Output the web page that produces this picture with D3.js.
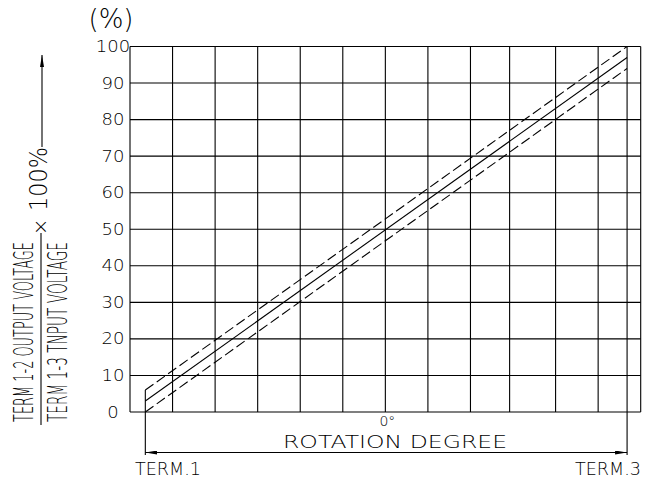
<!DOCTYPE html>
<html>
<head>
<meta charset="utf-8">
<script src="https://cdn.jsdelivr.net/npm/d3@7"></script>
<style>
  body { margin: 0; background: #fff; }
  text { font-family: "DejaVu Sans", sans-serif; font-weight: 200; fill: #000; }
</style>
</head>
<body>
<div id="chart"></div>
<script>
// grid positions (rotation degrees, 0 at centre) and value ticks
let xGrid = [-150, -125, -100, -75, -50, -25, 0, 25, 50, 73, 100, 125, 150]
let yTicks = [0, 10, 20, 30, 40, 50, 60, 70, 80, 90, 100]
let termDeg = [-141, 142]
let termLabels = ["TERM.1", "TERM.3"]
// output ratio (%) at TERM.1 and TERM.3
let nominal = [3, 97]
let upperLimit = [6, 100]
let lowerLimit = [0, 94]

drawChart()

function drawChart() {
    var width = 662, height = 483

    var svg = d3.select("#chart")
        .append("svg")
        .attr("width", width)
        .attr("height", height)

    var x = d3.scaleLinear().domain([-150, 150]).range([130, 640.7])
    var y = d3.scaleLinear().domain([0, 100]).range([412, 46.5])

    // grid
    svg.selectAll("hgrid")
        .data(yTicks)
        .enter()
        .append("line")
        .attr("x1", x(-150)).attr("x2", x(150))
        .attr("y1", d => y(d)).attr("y2", d => y(d))
        .attr("stroke", "#000").attr("stroke-width", 1.1)
    svg.selectAll("vgrid")
        .data(xGrid)
        .enter()
        .append("line")
        .attr("x1", d => x(d)).attr("x2", d => x(d))
        .attr("y1", y(0)).attr("y2", y(100))
        .attr("stroke", "#000").attr("stroke-width", 1.1)

    // tick labels
    svg.selectAll("ylab")
        .data(yTicks)
        .enter()
        .append("text")
        .attr("transform", d => "translate(113," + (y(d) + 5.5) + ") scale(1.2,1)")
        .attr("text-anchor", "middle")
        .style("font-size", "15px")
        .text(d => d)

    svg.append("text")
        .attr("x", 111).attr("y", 28)
        .attr("text-anchor", "middle")
        .style("font-size", "26px")
        .text("(%)")

    // terminal lines
    svg.append("line")
        .attr("x1", x(termDeg[0])).attr("x2", x(termDeg[0]))
        .attr("y1", y(upperLimit[0])).attr("y2", 455)
        .attr("stroke", "#000").attr("stroke-width", 1.1)
    svg.append("line")
        .attr("x1", x(termDeg[1])).attr("x2", x(termDeg[1]))
        .attr("y1", y(100)).attr("y2", 455)
        .attr("stroke", "#000").attr("stroke-width", 1.1)

    // characteristic lines
    var line = d3.line()
        .x((d, i) => x(termDeg[i]))
        .y(d => y(d))
    svg.append("path").datum(nominal)
        .attr("d", line).attr("fill", "none")
        .attr("stroke", "#000").attr("stroke-width", 1.1)
    svg.selectAll("limits")
        .data([upperLimit, lowerLimit])
        .enter()
        .append("path")
        .attr("d", line).attr("fill", "none")
        .attr("stroke", "#000").attr("stroke-width", 1.1)
        .attr("stroke-dasharray", "10,4")

    // rotation arrow
    var defs = svg.append("defs")
    defs.append("marker")
        .attr("id", "arr")
        .attr("viewBox", "0 0 12 4")
        .attr("refX", 12).attr("refY", 2)
        .attr("markerWidth", 12).attr("markerHeight", 4)
        .attr("markerUnits", "userSpaceOnUse")
        .attr("orient", "auto-start-reverse")
        .append("path")
        .attr("d", "M0,0L12,2L0,4Z")
        .attr("fill", "#000")
    svg.append("line")
        .attr("x1", x(termDeg[0])).attr("x2", x(termDeg[1]))
        .attr("y1", 452.5).attr("y2", 452.5)
        .attr("stroke", "#000").attr("stroke-width", 1.1)
        .attr("marker-start", "url(#arr)")
        .attr("marker-end", "url(#arr)")

    svg.append("text")
        .attr("x", x(0) + 2).attr("y", 426)
        .attr("text-anchor", "middle")
        .style("font-size", "14px")
        .text("0°")
    svg.append("text")
        .attr("x", 283).attr("y", 448)
        .attr("textLength", 224)
        .attr("lengthAdjust", "spacingAndGlyphs")
        .style("font-size", "18px")
        .text("ROTATION  DEGREE")

    svg.selectAll("termlab")
        .data(termLabels)
        .enter()
        .append("text")
        .attr("x", (d, i) => i == 0 ? 135 : 641)
        .attr("y", 475)
        .attr("text-anchor", (d, i) => i == 0 ? "start" : "end")
        .attr("textLength", 66)
        .attr("lengthAdjust", "spacingAndGlyphs")
        .style("font-size", "17.5px")
        .text(d => d)

    // left caption: ratio x 100%
    svg.append("text")
        .attr("transform", "translate(33,422) rotate(-90)")
        .attr("textLength", 180)
        .attr("lengthAdjust", "spacingAndGlyphs")
        .style("font-size", "26px")
        .style("font-weight", 300)
        .text("TERM 1-2 OUTPUT VOLTAGE")
    svg.append("text")
        .attr("transform", "translate(67,422) rotate(-90)")
        .attr("textLength", 180)
        .attr("lengthAdjust", "spacingAndGlyphs")
        .style("font-size", "26px")
        .style("font-weight", 300)
        .text("TERM 1-3 TNPUT VOLTAGE")
    svg.append("line")
        .attr("x1", 41).attr("x2", 41)
        .attr("y1", 233).attr("y2", 425)
        .attr("stroke", "#000").attr("stroke-width", 1.1)
    svg.append("text")
        .attr("x", 41).attr("y", 233)
        .attr("text-anchor", "middle")
        .style("font-size", "20px")
        .text("×")
    svg.append("text")
        .attr("transform", "translate(47,211) rotate(-90)")
        .attr("textLength", 64)
        .attr("lengthAdjust", "spacingAndGlyphs")
        .style("font-size", "25px")
        .text("100%")

    svg.append("line")
        .attr("x1", 42).attr("x2", 42)
        .attr("y1", 147).attr("y2", 55)
        .attr("stroke", "#000").attr("stroke-width", 1.1)
        .attr("marker-end", "url(#arr)")
}
</script>
</body>
</html>
